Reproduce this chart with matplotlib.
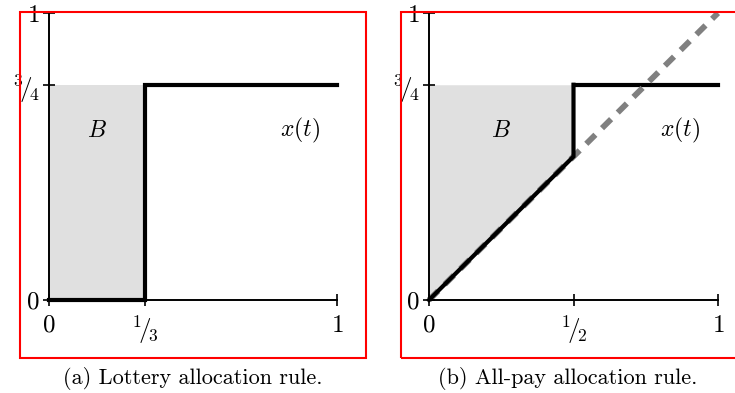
import matplotlib
matplotlib.use("Agg")
import matplotlib.pyplot as plt
from matplotlib.patches import Rectangle

plt.rcParams['mathtext.fontset'] = 'cm'
plt.rcParams['font.family'] = 'cmr10'

# panel (a): lottery rule, x(t) = 0 below the threshold, 3/4 above it
lot_t = [0, 1/3, 1/3, 1]
lot_x = [0, 0, 3/4, 3/4]
lot_xticks = [0, 1/3, 1]
lot_xlabels = ['$0$', r'${}^{1}\!/\!{}_{3}$', '$1$']

# panel (b): all-pay rule, x(t) = t below 1/2, then 3/4
ap_t = [0, 1/2, 1/2, 1]
ap_x = [0, 1/2, 3/4, 3/4]
ap_xticks = [0, 1/2, 1]
ap_xlabels = ['$0$', r'${}^{1}\!/\!{}_{2}$', '$1$']
diag = [0, 1]

yticks = [0, 3/4, 1]
ylabels = ['$0$', r'${}^{3}\!/\!{}_{4}$', '$1$']
cap = 3/4

W, H = 735, 393
fig = plt.figure(figsize=(W / 100, H / 100), dpi=100)


def px_axes(x0, x1, y_top, y_bot):
    return fig.add_axes([x0 / W, 1 - y_bot / H, (x1 - x0) / W, (y_bot - y_top) / H])


def style(ax, xt, xl):
    ax.set_xlim(0, 1)
    ax.set_ylim(0, 1)
    for s in ['top', 'right']:
        ax.spines[s].set_visible(False)
    for s in ['left', 'bottom']:
        ax.spines[s].set_linewidth(1.4)
    ax.set_xticks(xt)
    ax.set_xticklabels(xl, fontsize=18)
    ax.set_yticks(yticks)
    ax.set_yticklabels(ylabels, fontsize=18)
    ax.tick_params(direction='inout', length=9, width=1.2, pad=2)
    ax.tick_params(axis='x', pad=6)
    ax.patch.set_alpha(0)


ax1 = px_axes(49, 337, 13, 300)
ax1.fill_between(lot_t[:2], lot_x[:2], cap, color='#e0e0e0', lw=0)
ax1.plot(lot_t, lot_x, color='black', lw=3, clip_on=False, solid_joinstyle='miter')
ax1.text(1/6, 0.59, '$B$', fontsize=17, ha='center', va='center')
ax1.text(0.87, 0.59, '$x(t)$', fontsize=17, ha='center', va='center')
style(ax1, lot_xticks, lot_xlabels)

ax2 = px_axes(429, 718, 13, 300)
ax2.fill_between(ap_t[:2], ap_x[:2], cap, color='#e0e0e0', lw=0)
ax2.plot(ap_t[2:], ap_x[2:], color='black', lw=3, clip_on=False)
ax2.plot(diag, diag, color='#808080', lw=4.2, ls=(0, (2.2, 1.6)), clip_on=False)
ax2.plot(ap_t[:3], ap_x[:3], color='black', lw=3, clip_on=False, solid_joinstyle='miter')
ax2.text(0.25, 0.59, '$B$', fontsize=17, ha='center', va='center')
ax2.text(0.87, 0.59, '$x(t)$', fontsize=17, ha='center', va='center')
style(ax2, ap_xticks, ap_xlabels)

# red frames around each subfigure
for x0, x1 in [(20, 366), (401, 740)]:
    fig.patches.append(Rectangle((x0 / W, 1 - 358 / H), (x1 - x0) / W, 346 / H,
                                 transform=fig.transFigure, fill=False,
                                 edgecolor='red', lw=1.5))

fig.text(193 / W, 1 - 378 / H, '(a) Lottery allocation rule.', ha='center',
         va='center', fontsize=16)
fig.text(568 / W, 1 - 378 / H, '(b) All-pay allocation rule.', ha='center',
         va='center', fontsize=16)

fig.savefig('out.png', dpi=100)
